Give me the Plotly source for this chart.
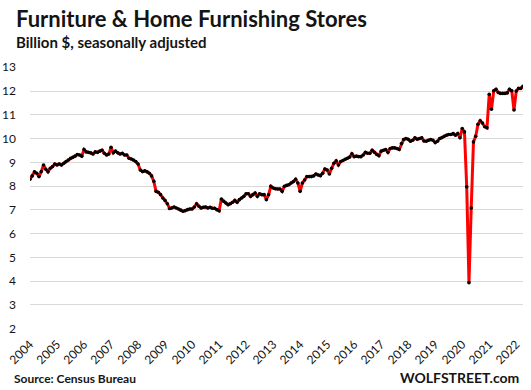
import plotly.graph_objects as go

# Monthly sales, Jan 2004 .. Apr 2022 (billion $, seasonally adjusted)
v2004 = [8.29, 8.43, 8.60, 8.54, 8.40, 8.61, 8.89, 8.71, 8.60, 8.75, 8.82, 8.93]
v2005 = [8.89, 8.93, 8.89, 8.96, 9.03, 9.10, 9.17, 9.21, 9.26, 9.33, 9.31, 9.26]
v2006 = [9.54, 9.44, 9.42, 9.40, 9.35, 9.44, 9.42, 9.47, 9.51, 9.38, 9.31, 9.35]
v2007 = [9.63, 9.40, 9.47, 9.40, 9.35, 9.38, 9.31, 9.31, 9.17, 9.14, 9.10, 9.03]
v2008 = [8.93, 8.68, 8.61, 8.64, 8.60, 8.54, 8.43, 8.20, 7.78, 7.74, 7.64, 7.50]
v2009 = [7.40, 7.26, 7.06, 7.08, 7.12, 7.08, 7.04, 6.99, 6.94, 6.97, 7.01, 7.04]
v2010 = [7.04, 7.12, 7.26, 7.15, 7.08, 7.11, 7.12, 7.08, 7.11, 7.07, 7.07, 7.01]
v2011 = [6.96, 7.46, 7.36, 7.29, 7.22, 7.26, 7.32, 7.40, 7.32, 7.43, 7.50, 7.57]
v2012 = [7.68, 7.68, 7.57, 7.64, 7.71, 7.57, 7.68, 7.64, 7.64, 7.43, 7.64, 7.99]
v2013 = [7.92, 7.89, 7.88, 7.88, 7.78, 7.99, 8.03, 8.06, 8.13, 8.19, 8.29, 8.13]
v2014 = [7.78, 8.13, 8.26, 8.40, 8.40, 8.40, 8.43, 8.51, 8.47, 8.44, 8.54, 8.72]
v2015 = [8.68, 8.51, 8.75, 8.96, 9.06, 8.89, 9.03, 9.08, 9.13, 9.17, 9.22, 9.36]
v2016 = [9.24, 9.26, 9.24, 9.24, 9.31, 9.42, 9.38, 9.38, 9.51, 9.42, 9.33, 9.28]
v2017 = [9.47, 9.51, 9.54, 9.42, 9.58, 9.61, 9.61, 9.58, 9.54, 9.79, 9.96, 10.00]
v2018 = [9.97, 9.89, 9.93, 10.03, 9.97, 10.00, 10.03, 9.90, 9.89, 9.93, 9.96, 9.93]
v2019 = [9.83, 9.89, 10.00, 10.04, 10.10, 10.14, 10.17, 10.17, 10.21, 10.14, 10.21, 10.03]
v2020 = [10.42, 10.28, 7.97, 3.94, 7.08, 9.86, 10.10, 10.60, 10.75, 10.65, 10.50, 10.45]
v2021 = [11.86, 11.23, 12.01, 12.07, 11.94, 11.90, 11.90, 11.90, 11.92, 12.07, 12.01, 11.20]
v2022 = [12.00, 12.11, 12.11, 12.20]

values = (v2004 + v2005 + v2006 + v2007 + v2008 + v2009 + v2010 + v2011 + v2012
          + v2013 + v2014 + v2015 + v2016 + v2017 + v2018 + v2019 + v2020
          + v2021 + v2022)
month_index = list(range(len(values)))

year_labels = [str(y) for y in range(2004, 2023)]
year_ticks = [12 * k for k in range(len(year_labels))]
y_ticks = list(range(2, 14))

FONT = "Lato, 'Open Sans', sans-serif"
TXT = "#141414"

fig = go.Figure()
fig.add_trace(go.Scatter(
    x=month_index, y=values, mode="lines+markers",
    line=dict(color="#ff0000", width=3),
    marker=dict(color="#000000", size=3.6, symbol="circle"),
    hoverinfo="y",
))

W, H = 531, 390
L, R, T, B = 30, 8, 67, 61
pw, ph = W - L - R, H - T - B


def px(xp):
    return (xp - L) / pw


def py(yp):
    return (H - B - yp) / ph


annots = [
    dict(text="<b>Furniture & Home Furnishing Stores</b>", x=px(14), y=py(19),
         font=dict(size=22, family=FONT, color=TXT)),
    dict(text="<b>Billion $, seasonally adjusted</b>", x=px(14), y=py(42),
         font=dict(size=15, family=FONT, color=TXT)),
    dict(text="<b>Source: Census Bureau</b>", x=px(12), y=py(378),
         font=dict(size=12, family=FONT, color=TXT)),
]
for a in annots:
    a.update(xref="paper", yref="paper", xanchor="left", yanchor="middle",
             showarrow=False)
annots.append(dict(text="<b>WOLFSTREET.com</b>", x=px(521), y=py(377),
                   xref="paper", yref="paper", xanchor="right", yanchor="middle",
                   showarrow=False, font=dict(size=14, family=FONT, color=TXT)))

fig.update_layout(
    width=W, height=H,
    margin=dict(l=L, r=R, t=T, b=B, pad=0, autoexpand=False),
    paper_bgcolor="white", plot_bgcolor="white",
    showlegend=False,
    annotations=annots,
    font=dict(family=FONT, color=TXT),
)
fig.update_xaxes(
    range=[0, len(values) - 1],
    tickmode="array", tickvals=year_ticks, ticktext=year_labels,
    tickangle=-45, tickfont=dict(size=12, family=FONT, color=TXT),
    showgrid=False, zeroline=False, showline=False, ticks="",
    ticklabelstandoff=5, automargin=False,
)
fig.update_yaxes(
    range=[1.99, 13.01],
    tickmode="array", tickvals=y_ticks,
    tickfont=dict(size=12, family=FONT, color=TXT),
    showgrid=True, gridcolor="#d9d9d9", gridwidth=1,
    zeroline=False, showline=False, ticks="",
    ticklabelstandoff=13, automargin=False,
)

fig.write_html("out.html",
               config={"displayModeBar": False},
               post_script="document.body.style.margin='0';"
                           "document.body.style.overflow='hidden';")
